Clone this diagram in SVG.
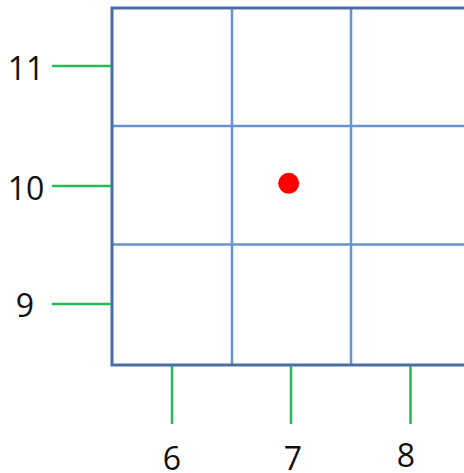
<svg xmlns="http://www.w3.org/2000/svg" width="464" height="473" viewBox="0 0 464 473">
<style>
.inner{stroke:#6793cb;stroke-width:2.5;fill:none}
.outer{stroke:#4a6ea3;stroke-width:3;fill:none}
.tick{stroke:#22bb55;stroke-width:2.5}
.lbl{font-family:"Open Sans","Liberation Sans",sans-serif;font-size:32px;fill:#111;text-anchor:middle}
</style>
<rect width="464" height="473" fill="#fff"/>
<g id="grid">
<line class="inner" x1="232" y1="8" x2="232" y2="365"/>
<line class="inner" x1="351" y1="8" x2="351" y2="365"/>
<line class="inner" x1="112" y1="126" x2="470" y2="126"/>
<line class="inner" x1="112" y1="244.5" x2="470" y2="244.5"/>
<rect class="outer" x="112" y="8" width="360" height="357"/>
</g>
<g id="point"><circle cx="288.7" cy="183.3" r="10.5" fill="#ff0000"/></g>
<g id="connectors">
<line class="tick" x1="52" y1="66" x2="111" y2="66"/>
<line class="tick" x1="52" y1="186" x2="111" y2="186"/>
<line class="tick" x1="52" y1="304" x2="111" y2="304"/>
<line class="tick" x1="172" y1="366" x2="172" y2="424"/>
<line class="tick" x1="291" y1="366" x2="291" y2="424"/>
<line class="tick" x1="410.5" y1="366" x2="410.5" y2="424"/>
</g>
<g id="labels">
<text class="lbl" x="26" y="80">11</text>
<text class="lbl" x="26" y="200">10</text>
<text class="lbl" x="25" y="317">9</text>
<text class="lbl" x="172" y="470">6</text>
<text class="lbl" x="293" y="470">7</text>
<text class="lbl" x="406" y="467">8</text>
</g>
</svg>
